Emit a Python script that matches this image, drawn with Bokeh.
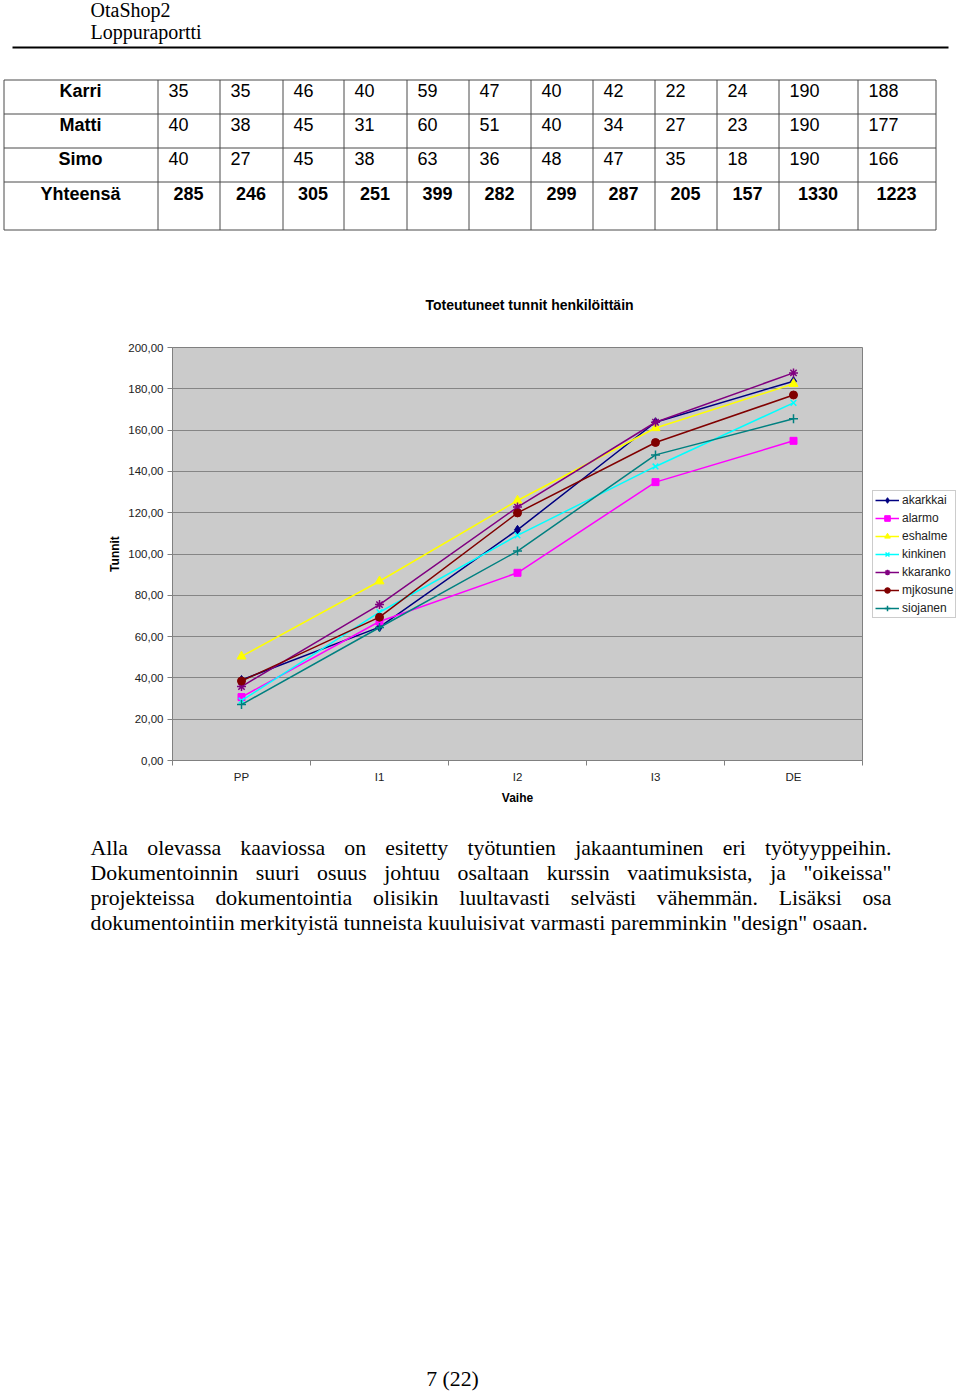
from bokeh.plotting import figure
from bokeh.layouts import column
from bokeh.models import Range1d, FixedTicker, Legend, LegendItem
from bokeh.embed import file_html
from bokeh.resources import INLINE
from bokeh.core.properties import value

# ---------------- data ----------------
header_lines = ["OtaShop2", "Loppuraportti"]

row_names = ["Karri", "Matti", "Simo"]
karri = [35, 35, 46, 40, 59, 47, 40, 42, 22, 24, 190, 188]
matti = [40, 38, 45, 31, 60, 51, 40, 34, 27, 23, 190, 177]
simo = [40, 27, 45, 38, 63, 36, 48, 47, 35, 18, 190, 166]
total_name = "Yhteensä"
totals = [285, 246, 305, 251, 399, 282, 299, 287, 205, 157, 1330, 1223]

chart_title = "Toteutuneet tunnit henkilöittäin"
phases = ["PP", "I1", "I2", "I3", "DE"]
akarkkai = [39.0, 64.6, 111.7, 163.8, 183.7]
alarmo = [30.7, 67.3, 90.9, 134.8, 154.8]
eshalme = [50.4, 86.8, 125.9, 161.0, 182.4]
kinkinen = [29.0, 71.8, 109.0, 142.4, 173.2]
kkaranko = [35.8, 75.5, 122.7, 163.8, 187.7]
mjkosune = [38.5, 69.4, 119.9, 154.0, 177.0]
siojanen = [27.1, 64.4, 101.4, 148.0, 165.5]
y_ticks = [0, 20, 40, 60, 80, 100, 120, 140, 160, 180, 200]
y_tick_labels = ["0,00", "20,00", "40,00", "60,00", "80,00", "100,00",
                 "120,00", "140,00", "160,00", "180,00", "200,00"]

para_lines = [
    "Alla olevassa kaaviossa on esitetty työtuntien jakaantuminen eri työtyyppeihin.",
    "Dokumentoinnin suuri osuus johtuu osaltaan kurssin vaatimuksista, ja \"oikeissa\"",
    "projekteissa dokumentointia olisikin luultavasti selvästi vähemmän. Lisäksi osa",
    "dokumentointiin merkityistä tunneista kuuluisivat varmasti paremminkin \"design\" osaan.",
]
page_number = "7 (22)"

# ---------------- helpers ----------------
SANS = "Liberation Sans"
SERIF = "Liberation Serif"
W = 960


def page_fig(y0, y1):
    f = figure(width=W, height=y1 - y0, x_range=Range1d(0, W), y_range=Range1d(y1, y0),
               output_backend="svg", toolbar_location=None, tools="", min_border=0,
               x_axis_location=None, y_axis_location=None)
    f.frame_align = False
    f.grid.visible = False
    f.outline_line_color = None
    return f


# ---------------- header + table ----------------
top = page_fig(0, 320)
top.text(x=[90, 90], y=[9, 31], text=header_lines, text_font=value(SERIF),
         text_font_size="20px", text_baseline="alphabetic", text_align="left", text_color="black")
top.segment(x0=[12], y0=[47], x1=[948], y1=[47], line_color="black", line_width=2)

col_edges = [3, 157, 219, 282, 343, 406, 468, 530, 592, 654, 716, 778, 857, 935]
row_edges = [79, 113, 147, 181, 229]
lc = "#4a4a4a"
top.segment(x0=[col_edges[0] + 0.5] * len(row_edges), y0=[r + 0.5 for r in row_edges],
            x1=[col_edges[-1] + 0.5] * len(row_edges), y1=[r + 0.5 for r in row_edges],
            line_color=lc, line_width=1)
vx = [cx + 0.5 for cx in col_edges]
top.segment(x0=vx, y0=[row_edges[0] + 0.5] * len(vx), x1=vx, y1=[row_edges[-1] + 0.5] * len(vx),
            line_color=lc, line_width=1)

name_x = (col_edges[0] + col_edges[1]) / 2
top.text(x=[name_x] * 4, y=[row_edges[i] + 11 for i in range(3)] + [row_edges[3] + 12],
         text=row_names + [total_name], text_font=value(SANS), text_font_size="18px",
         text_font_style="bold", text_align="center", text_baseline="alphabetic", text_color="black")

vals_x, vals_y, vals_t = [], [], []
for i, row in enumerate([karri, matti, simo]):
    for j, v in enumerate(row):
        vals_x.append(col_edges[j + 1] + 11)
        vals_y.append(row_edges[i] + 11)
        vals_t.append(str(v))
top.text(x=vals_x, y=vals_y, text=vals_t, text_font=value(SANS), text_font_size="18px",
         text_align="left", text_baseline="alphabetic", text_color="black")
top.text(x=[(col_edges[j + 1] + col_edges[j + 2]) / 2 for j in range(len(totals))],
         y=[row_edges[3] + 12] * len(totals), text=[str(t) for t in totals],
         text_font=value(SANS), text_font_size="18px", text_font_style="bold",
         text_align="center", text_baseline="alphabetic", text_color="black")

top.text(x=[529], y=[304], text=[chart_title], text_font=value(SANS), text_font_size="14px",
         text_font_style="bold", text_align="center", text_baseline="middle", text_color="black")

# ---------------- chart ----------------
c = figure(frame_width=690, frame_height=413, x_range=Range1d(0, len(phases)),
           y_range=Range1d(0, 200), output_backend="svg", toolbar_location=None, tools="",
           min_border_left=172, min_border_right=98, min_border_top=27, min_border_bottom=60,
           background_fill_color="#cbcbcb", border_fill_color="white")
c.frame_align = False
c.outline_line_color = "#808080"
c.xgrid.visible = False
yt = FixedTicker(ticks=y_ticks)
c.yaxis.ticker = yt
c.ygrid.ticker = yt
c.ygrid.grid_line_color = "#858585"
c.ygrid.grid_line_width = 1
c.yaxis.major_label_overrides = dict(zip(y_ticks, y_tick_labels))

xs = [i + 0.5 for i in range(len(phases))]
c.xaxis.ticker = FixedTicker(ticks=xs, minor_ticks=list(range(len(phases) + 1)))
c.xaxis.major_label_overrides = dict(zip(xs, phases))

for ax in (c.xaxis[0], c.yaxis[0]):
    ax.axis_line_color = "#808080"
    ax.major_label_text_font = SANS
    ax.major_label_text_font_size = "11.5px"
    ax.major_label_text_color = "#222222"
    ax.axis_label_text_font = SANS
    ax.axis_label_text_font_size = "12px"
    ax.axis_label_text_font_style = "bold"
    ax.axis_label_text_color = "black"

c.xaxis.major_tick_line_color = None
c.xaxis.major_tick_out = 0
c.xaxis.major_tick_in = 0
c.xaxis.minor_tick_line_color = "#808080"
c.xaxis.minor_tick_out = 5
c.xaxis.minor_tick_in = 0
c.xaxis.major_label_standoff = 5
c.xaxis.axis_label = "Vaihe"
c.xaxis.axis_label_standoff = 5

c.yaxis.major_tick_line_color = "#808080"
c.yaxis.major_tick_out = 5
c.yaxis.major_tick_in = 0
c.yaxis.minor_tick_line_color = None
c.yaxis.major_label_standoff = 4
c.yaxis.axis_label = "Tunnit"
c.yaxis.axis_label_standoff = 3

series = [
    ("akarkkai", akarkkai, "#000080", "diamond", 9, 1),
    ("alarmo", alarmo, "#ff00ff", "square", 7, 1),
    ("eshalme", eshalme, "#ffff00", "triangle", 9, 1),
    ("kinkinen", kinkinen, "#00ffff", "x", 8, 1.5),
    ("kkaranko", kkaranko, "#800080", "asterisk", 9, 1.5),
    ("mjkosune", mjkosune, "#800000", "circle", 8, 1),
    ("siojanen", siojanen, "#008080", "cross", 9, 1.5),
]
items = []
for name, vals, color, marker, size, mlw in series:
    r1 = c.line(xs, vals, line_color=color, line_width=1.5)
    r2 = c.scatter(xs, vals, marker=marker, size=size, fill_color=color,
                   line_color=color, line_width=mlw)
    items.append(LegendItem(label=name, renderers=[r1, r2]))

legend = Legend(items=items, location="center_left", orientation="vertical",
                label_text_font=SANS, label_text_font_size="12px", label_text_color="#222222",
                glyph_width=24, glyph_height=14, label_height=14, spacing=4, padding=2,
                label_standoff=3, margin=10, border_line_color="#999999",
                background_fill_color="white", background_fill_alpha=1)
c.add_layout(legend, "right")

# ---------------- paragraph ----------------
bottom = page_fig(820, 1391)
TIMES = {" ": 250, "a": 444, "b": 500, "c": 444, "d": 500, "e": 444, "f": 333, "g": 500,
         "h": 500, "i": 278, "j": 278, "k": 500, "l": 278, "m": 778, "n": 500, "o": 500,
         "p": 500, "q": 500, "r": 333, "s": 389, "t": 278, "u": 500, "v": 500, "w": 722,
         "x": 500, "y": 500, "z": 444, "A": 722, "D": 722, "L": 611, "ä": 444, "ö": 500,
         ".": 250, ",": 250, "\"": 408, "(": 333, ")": 333, "2": 500, "7": 500}
FS = 21.8


def tw(s):
    return sum(TIMES.get(ch, 500) for ch in s) * FS / 1000


left, right = 90, 891
wx, wy, wt = [], [], []
for li, line in enumerate(para_lines):
    words = line.split(" ")
    base = 847 + 25 * li
    if li < len(para_lines) - 1:
        gap = (right - left - sum(tw(w) for w in words)) / (len(words) - 1)
    else:
        gap = tw(" ")
    x = left
    for w in words:
        wx.append(x)
        wy.append(base)
        wt.append(w)
        x += tw(w) + gap
bottom.text(x=wx, y=wy, text=wt, text_font=value(SERIF), text_font_size=f"{FS}px",
            text_align="left", text_baseline="alphabetic", text_color="black")
bottom.text(x=[452], y=[1378], text=[page_number], text_font=value(SERIF),
            text_font_size=f"{FS}px", text_align="center", text_baseline="alphabetic",
            text_color="black")

page = column(top, c, bottom)
open("out.html", "w").write(file_html(page, INLINE))
